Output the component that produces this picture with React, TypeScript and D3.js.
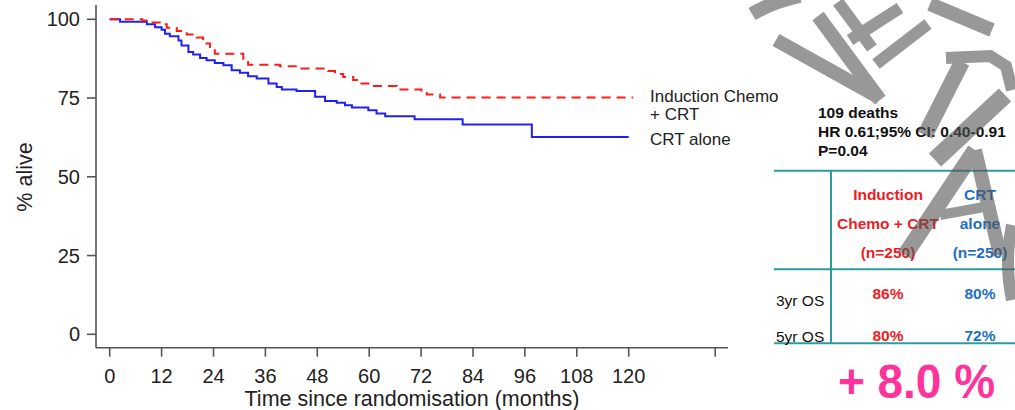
import React from "react";
import * as d3 from "d3";

// ---- data ----
const xTicks = [0, 12, 24, 36, 48, 60, 72, 84, 96, 108, 120];
const yTicks = [0, 25, 50, 75, 100];
// [month, % alive] step points
const chemoCrt: [number, number][] = [
  [0, 100], [7.5, 99.6], [9.3, 99], [11.6, 98.4], [13.2, 97.3], [15.5, 96.3], [17.8, 95.2],
  [20.1, 94.2], [21.6, 92.3], [23.2, 90.7], [24.3, 89.1], [30.9, 87], [32, 85.6], [39.4, 85.1],
  [44, 84.4], [50.5, 83.6], [52.1, 82.6], [54, 81.7], [56.3, 80.7], [57.5, 79.6], [60.2, 78.8],
  [66.4, 77.7], [72.1, 76.6], [73.3, 76.1], [76.4, 75.2], [121, 75.2],
];
const crtAlone: [number, number][] = [
  [0, 100], [2.4, 99.2], [8.6, 98.4], [10.5, 97.5], [12, 96.7], [12.8, 95.4], [13.9, 94.6],
  [15.9, 93.3], [16.6, 91.7], [18.2, 89.6], [19.3, 88.8], [20.9, 87.7], [22.4, 87], [24.3, 86.1],
  [26.3, 85.4], [28.2, 83.8], [30.1, 83], [32, 81.9], [34, 81.2], [36.7, 79.6], [38.6, 78.5],
  [39.8, 77.7], [43.2, 77.2], [47.5, 75.4], [49.8, 74.1], [52.5, 73.5], [54.4, 72.7], [56, 72],
  [59.8, 71.1], [61.7, 70.1], [63.7, 69.2], [70.5, 68.3], [81.6, 66.6], [97.6, 62.6], [120, 62.6],
];
const statsLines = ["109 deaths", "HR 0.61;95% CI: 0.40-0.91", "P=0.04"];
const headChemo = ["Induction", "Chemo + CRT", "(n=250)"];
const headCrt = ["CRT", "alone", "(n=250)"];
const rowLabels = ["3yr OS", "5yr OS"];
const osChemo = ["86%", "80%"];
const osCrt = ["80%", "72%"];
const diffLabel = "+ 8.0 %";

const FONT = "'Liberation Sans', Arial, sans-serif";

export default function App() {
  const x = d3.scaleLinear().domain([0, 120]).range([109.7, 628.7]);
  const y = d3.scaleLinear().domain([0, 100]).range([334.3, 19.3]);
  const line = d3
    .line<[number, number]>()
    .x((d) => x(d[0]))
    .y((d) => y(d[1]))
    .curve(d3.curveStepAfter);
  const axisColor = "#555";
  const red = "#ee1c25";
  const blueTxt = "#1f6fbf";
  const teal = "#2e9c9c";
  const xAxisY = 347.7;

  const wm: string[] = [
    "M752,14 Q772,2 800,-4",
    "M776,40 L880,98",
    "M818,16 L880,100",
    "M838,2 L872,48",
    "M850,40 L900,8",
    "M876,64 L928,24",
    "M930,4 L992,30",
    "M946,58 L990,56 L1006,66 L1012,90",
    "M962,62 L925,135",
    "M1005,95 L935,160",
    "M905,255 L975,150",
    "M975,150 L1000,255",
    "M940,215 L995,205",
    "M1012,225 Q1004,262 1012,300",
  ];
  const wmW = [14, 14, 14, 12, 12, 12, 14, 12, 16, 18, 16, 14, 10, 12];

  return (
    <svg
      width={1015}
      height={410}
      style={{ position: "absolute", left: 0, top: 0, background: "#fff" }}
      fontFamily={FONT}
    >
      <rect x={0} y={0} width={1015} height={410} fill="#fff" />
      {/* axes */}
      <line x1={96} y1={5} x2={96} y2={xAxisY} stroke={axisColor} strokeWidth={1.6} />
      <line x1={96} y1={xAxisY} x2={728} y2={xAxisY} stroke={axisColor} strokeWidth={1.6} />
      {yTicks.map((t) => (
        <g key={"y" + t}>
          <line x1={87} x2={96} y1={y(t)} y2={y(t)} stroke={axisColor} strokeWidth={1.6} />
          <text x={80} y={y(t)} dy="0.35em" textAnchor="end" fontSize={20} fill="#222">
            {t}
          </text>
        </g>
      ))}
      {xTicks.map((t) => (
        <g key={"x" + t}>
          <line x1={x(t)} x2={x(t)} y1={xAxisY} y2={xAxisY + 9} stroke={axisColor} strokeWidth={1.6} />
          <text x={x(t)} y={376} dy="0.35em" textAnchor="middle" fontSize={20} fill="#222">
            {t}
          </text>
        </g>
      ))}
      <line x1={x(140)} x2={x(140)} y1={xAxisY} y2={xAxisY + 9} stroke={axisColor} strokeWidth={1.6} />
      <text x={412} y={398.5} dy="0.35em" textAnchor="middle" fontSize={21.5} fill="#222">
        Time since randomisation (months)
      </text>
      <text
        transform="translate(24,177) rotate(-90)"
        textAnchor="middle"
        dy="0.35em"
        fontSize={21.5}
        fill="#222"
      >
        % alive
      </text>

      {/* curves */}
      <path d={line(crtAlone) || ""} fill="none" stroke="#2020f0" strokeWidth={2} />
      <path d={line(chemoCrt) || ""} fill="none" stroke="#ff1a1a" strokeWidth={2} strokeDasharray="9,6" />

      {/* legend */}
      <text x={650} y={96} dy="0.35em" fontSize={17} fill="#222">Induction Chemo</text>
      <text x={650} y={114} dy="0.35em" fontSize={17} fill="#222">+ CRT</text>
      <text x={650} y={139} dy="0.35em" fontSize={17} fill="#222">CRT alone</text>

      {/* stats */}
      {statsLines.map((s, i) => (
        <text key={s} x={818} y={112.5 + i * 19.2} dy="0.35em" fontSize={15.5} fontWeight="bold" fill="#111">
          {s}
        </text>
      ))}

      {/* table */}
      <line x1={774} x2={1015} y1={170.7} y2={170.7} stroke={teal} strokeWidth={2} />
      <line x1={774} x2={1015} y1={269.3} y2={269.3} stroke={teal} strokeWidth={2} />
      <line x1={774} x2={1015} y1={343.3} y2={343.3} stroke={teal} strokeWidth={2} />
      <line x1={831} x2={831} y1={170.7} y2={344} stroke={teal} strokeWidth={2} />
      {headChemo.map((s, i) => (
        <text key={"hc" + i} x={888} y={195 + i * 28.8} dy="0.35em" textAnchor="middle" fontSize={15.5} fontWeight="bold" fill={red}>
          {s}
        </text>
      ))}
      {headCrt.map((s, i) => (
        <text key={"hr" + i} x={980} y={195 + i * 28.8} dy="0.35em" textAnchor="middle" fontSize={15.5} fontWeight="bold" fill={blueTxt}>
          {s}
        </text>
      ))}
      {rowLabels.map((s, i) => (
        <text key={s} x={776} y={300.7 + i * 36} dy="0.35em" fontSize={15.5} fill="#111">
          {s}
        </text>
      ))}
      {osChemo.map((s, i) => (
        <text key={"oc" + i} x={888} y={293.5 + i * 42.5} dy="0.35em" textAnchor="middle" fontSize={15.5} fontWeight="bold" fill={red}>
          {s}
        </text>
      ))}
      {osCrt.map((s, i) => (
        <text key={"or" + i} x={980} y={293.5 + i * 42.5} dy="0.35em" textAnchor="middle" fontSize={15.5} fontWeight="bold" fill={blueTxt}>
          {s}
        </text>
      ))}
      <text
        x={838}
        y={398}
        fontSize={48}
        fontWeight="bold"
        fill="#ff3399"
        textLength={157}
        lengthAdjust="spacingAndGlyphs"
      >
        {diffLabel}
      </text>

      {/* watermark */}
      <g opacity={0.6} fill="none" stroke="#555" strokeLinecap="butt" strokeLinejoin="miter">
        {wm.map((d, i) => (
          <path key={"wm" + i} d={d} strokeWidth={wmW[i]} />
        ))}
      </g>
    </svg>
  );
}
